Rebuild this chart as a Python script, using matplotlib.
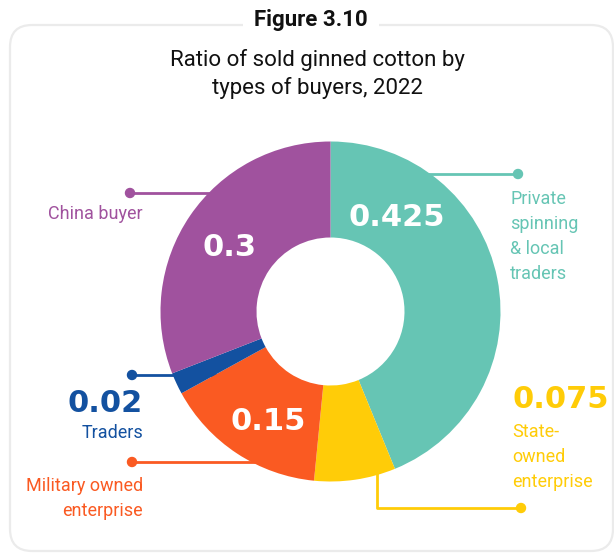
import matplotlib.pyplot as plt
from matplotlib.patches import FancyBboxPatch, Circle

# ginned cotton sales by type of buyer, 2022
buyers = ["Private\nspinning\n& local\ntraders", "State-\nowned\nenterprise",
          "Military owned\nenterprise", "Traders", "China buyer"]
ratios = [0.425, 0.075, 0.15, 0.02, 0.3]
colors = ["#66C5B4", "#FFCC08", "#FA5A22", "#1351A0", "#A0529E"]

W, H = 614, 554
CX, CY = 330.5, 311.5
R_OUT, R_IN = 170, 74


def py(y):
    # work in pixel coords measured from the top
    return H - y


fig = plt.figure(figsize=(W / 100, H / 100), dpi=100)
ax = fig.add_axes([0, 0, 1, 1])

ax.pie(ratios, colors=colors, startangle=90, counterclock=False,
       center=(CX, py(CY)), radius=R_OUT,
       wedgeprops=dict(width=R_OUT - R_IN, edgecolor="none", zorder=2))
ax.set_xlim(0, W)
ax.set_ylim(0, H)
ax.set_aspect("equal")
ax.axis("off")

# outer rounded frame
frame = FancyBboxPatch((10, py(551)), 603, 526,
                       boxstyle="round,pad=0,rounding_size=22",
                       fc="none", ec="#EBEBEB", lw=1.6, zorder=0)
ax.add_patch(frame)

ax.text(311, py(20), "Figure 3.10", ha="center", va="center",
        fontsize=16, fontweight="bold", family="Roboto", color="#111111",
        bbox=dict(fc="white", ec="none", pad=8), zorder=1)
ax.text(317, py(74), "Ratio of sold ginned cotton by\ntypes of buyers, 2022",
        ha="center", va="center", fontsize=16, family="Roboto",
        color="#111111", linespacing=1.35)


def leader(xs, ys, color, dot):
    ax.plot(xs, [py(v) for v in ys], color=color, lw=2, zorder=1,
            solid_capstyle="butt")
    ax.add_patch(Circle((dot[0], py(dot[1])), 4.5, color=color, zorder=1))


leader([380, 518], [174, 174], colors[0], (518, 174))
leader([377, 377, 521], [440, 508, 508], colors[1], (521, 508))
leader([132, 300], [462, 462], colors[2], (132, 462))
leader([132, 240], [375, 375], colors[3], (132, 375))
leader([130, 260], [193, 193], colors[4], (130, 193))

num = dict(fontsize=22, fontweight="bold", family="DejaVu Sans", va="center")
lab = dict(fontsize=13, family="Roboto", linespacing=1.5)

# values inside the ring
ax.text(397, py(218), "0.425", color="white", ha="center", **num)
ax.text(230, py(248), "0.3", color="white", ha="center", **num)
ax.text(268, py(421), "0.15", color="white", ha="center", **num)

# outside labels
ax.text(510, py(190), buyers[0], color=colors[0], ha="left", va="top", **lab)
ax.text(512, py(400), "0.075", color=colors[1], ha="left", **num)
ax.text(512, py(423), buyers[1], color=colors[1], ha="left", va="top", **lab)
ax.text(143, py(404), "0.02", color=colors[3], ha="right", **num)
ax.text(143, py(433), buyers[3], color=colors[3], ha="right", va="center", **lab)
ax.text(143, py(477), buyers[2], color=colors[2], ha="right", va="top",
        multialignment="right", **lab)
ax.text(143, py(214), buyers[4], color=colors[4], ha="right", va="center", **lab)

fig.savefig("out.png", dpi=100, facecolor="white")
